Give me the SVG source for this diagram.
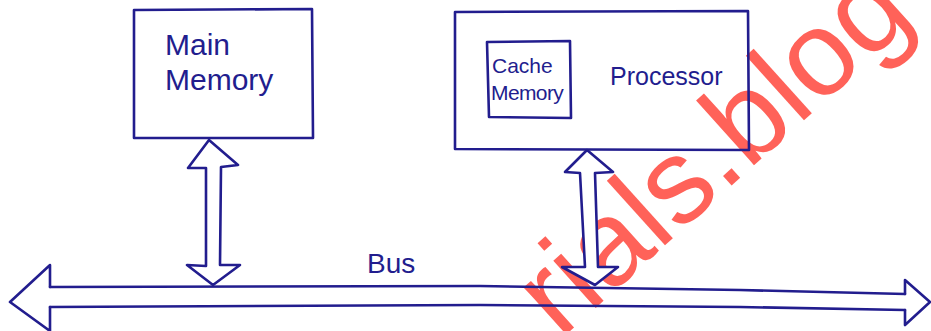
<svg xmlns="http://www.w3.org/2000/svg" width="931" height="331" viewBox="0 0 931 331">
<style>
.ink{fill:none;stroke:#221d8e;stroke-width:2.6;stroke-linejoin:round;stroke-linecap:round}
.hollow{fill:#ffffff;stroke:#221d8e;stroke-width:2.6;stroke-linejoin:round}
.lbl{font-family:"Liberation Sans","DejaVu Sans",sans-serif;fill:#221d8e}
.wm{font-family:"Liberation Sans","DejaVu Sans",sans-serif;fill:#ff3b30;opacity:0.8}
</style>
<rect width="931" height="331" fill="#ffffff"/>
<text class="wm" font-size="120" transform="translate(560,340) rotate(-42)">rials.blog</text>
<g id="connectors">
<g id="bus">
<path class="ink" d="M50,287 L480,286 L740,290 L905,294"/>
<path class="ink" d="M50,307 L480,305 L740,307 L905,310"/>
<path class="ink" d="M50,287 L50,265 L10,302 L50,331 L50,307"/>
<path class="ink" d="M905,294 L905,280 L930,302 L905,325 L905,310"/>
</g>
<path id="mem-bus" class="hollow" d="M209,140 L238,165 L221,167 L220,265 L240,265 L213,285 L187,265 L206,266 L206,168 L188,168 Z"/>
<path id="proc-bus" class="hollow" d="M587,150 L613,172 L595,173 L598,267 L618,267 L595,285 L562,267 L585,267 L580,173 L565,172 Z"/>
</g>
<g id="main-memory">
<path class="ink" d="M134,10 L312,9 L313,138 L134,138 Z"/>
<text class="lbl" x="165" y="55" font-size="30">Main</text>
<text class="lbl" x="165" y="90" font-size="30">Memory</text>
</g>
<g id="processor">
<path class="ink" d="M455,12 L748,11 L749,150 L455,149 Z"/>
<text class="lbl" x="610" y="85" font-size="25">Processor</text>
</g>
<g id="cache-memory">
<path class="ink" d="M487,42 L570,41 L571,118 L489,117 Z"/>
<text class="lbl" x="492" y="73" font-size="21">Cache</text>
<text class="lbl" x="491" y="100" font-size="21" letter-spacing="-0.6">Memory</text>
</g>
<text id="bus-label" class="lbl" x="367" y="273" font-size="28">Bus</text>
</svg>
